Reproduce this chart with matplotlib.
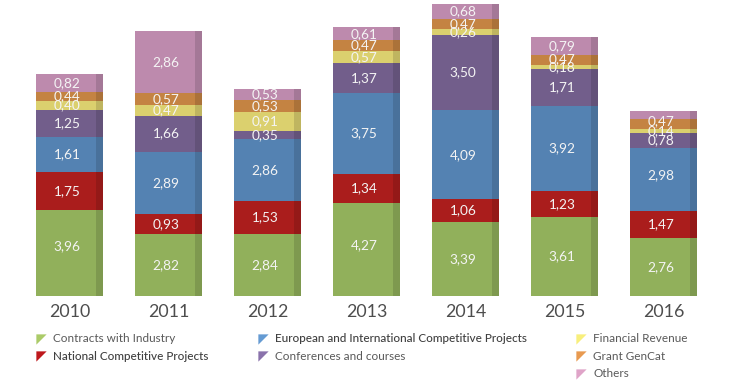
import matplotlib
matplotlib.use("Agg")
import matplotlib.pyplot as plt
import numpy as np
from matplotlib.colors import to_rgb
from matplotlib.path import Path

plt.rcParams['font.family'] = ['Lato', 'DejaVu Sans']

years = ['2010', '2011', '2012', '2013', '2014', '2015', '2016']

# bar heights as drawn (the 2016 column is drawn shorter than its printed labels)
contracts = [3.96, 2.82, 2.84, 4.27, 3.39, 3.61, 2.64]
national = [1.75, 0.93, 1.53, 1.34, 1.06, 1.23, 1.27]
european = [1.61, 2.89, 2.86, 3.75, 4.09, 3.92, 2.90]
conferences = [1.25, 1.66, 0.35, 1.37, 3.50, 1.71, 0.69]
financial = [0.40, 0.47, 0.91, 0.57, 0.26, 0.18, 0.18]
grant = [0.44, 0.57, 0.53, 0.47, 0.47, 0.47, 0.46]
others = [0.82, 2.86, 0.53, 0.61, 0.68, 0.79, 0.36]

# labels as printed
contracts_lab = ['3,96', '2,82', '2,84', '4,27', '3,39', '3,61', '2,76']
national_lab = ['1,75', '0,93', '1,53', '1,34', '1,06', '1,23', '1,47']
european_lab = ['1,61', '2,89', '2,86', '3,75', '4,09', '3,92', '2,98']
conferences_lab = ['1,25', '1,66', '0,35', '1,37', '3,50', '1,71', '0,78']
financial_lab = ['0,40', '0,47', '0,91', '0,57', '0,26', '0,18', '0,14']
grant_lab = ['0,44', '0,57', '0,53', '0,47', '0,47', '0,47', '0,47']
others_lab = ['0,82', '2,86', '0,53', '0,61', '0,68', '0,79', '']

series = [contracts, national, european, conferences, financial, grant, others]
labels = [contracts_lab, national_lab, european_lab, conferences_lab,
          financial_lab, grant_lab, others_lab]
names = ['Contracts with Industry', 'National Competitive Projects',
         'European and International Competitive Projects',
         'Conferences and courses', 'Financial Revenue', 'Grant GenCat', 'Others']
colors = ['#91B05B', '#AA1D1C', '#5482B2', '#725E8B', '#DBD06E', '#C48342', '#BD8AAD']
marker_colors = ['#ABCB68', '#BE181C', '#659BD3', '#8A72AB', '#F8EF7C', '#E89A50', '#DFA4C8']
medium = {'National Competitive Projects', 'European and International Competitive Projects'}

# label nudges in pixels, upward positive: (series index, year index)
nudges = {(0, 0): 6, (0, 3): 4, (2, 6): 4, (5, 6): 3}

W, H = 739, 385
fig = plt.figure(figsize=(W / 100, H / 100), dpi=100)
ax = fig.add_axes([0, 0, 1, 1])

step = 99.0
ppu = 21.67
base_y = 295.5
x0 = 66.0
ax.set_xlim(-x0 / step, (W - x0) / step)
ax.set_ylim(-(H - base_y) / ppu, base_y / ppu)
ax.axis('off')

front_w = 59.5 / step
side_w = 7.5 / step
pos = np.arange(len(years))
bottom = np.zeros(len(years))

for s, (vals, labs, col) in enumerate(zip(series, labels, colors)):
    vals = np.array(vals)
    dark = tuple(c * 0.87 for c in to_rgb(col))
    ax.bar(pos + front_w / 2 + side_w / 2, vals, side_w, bottom=bottom, color=dark, linewidth=0)
    ax.bar(pos, vals, front_w, bottom=bottom, color=col, linewidth=0)
    for i, v in enumerate(vals):
        if labs[i]:
            ax.text(pos[i] + 1 / step, bottom[i] + v / 2 + nudges.get((s, i), 0) / ppu, labs[i],
                    ha='center', va='center', color='#F4F4F4', fontsize=9.8)
    bottom += vals

# years
for i, y in enumerate(years):
    ax.text(pos[i] + 4 / step, -(312 - base_y) / ppu, y, ha='center', va='center',
            color='#4D4D4D', fontsize=12.8)

# legend
tri = Path([(-1, 1), (1, 1), (-1, -1), (-1, 1)], closed=True)
legend_at = [(36, 339), (36, 356), (258, 339), (258, 356), (576, 339), (576, 356), (576, 373.5)]
for name, mc, (px, py) in zip(names, marker_colors, legend_at):
    fig.add_artist(plt.Line2D([(px + 5) / W], [1 - py / H], marker=tri, markersize=7.4,
                              color=mc, markeredgewidth=0, linestyle='none',
                              transform=fig.transFigure))
    fig.text((px + 17) / W, 1 - py / H, name, ha='left', va='center', fontsize=8.45,
             color='#404040' if name in medium else '#595959',
             fontweight='medium' if name in medium else 'normal')

fig.savefig('out.png', dpi=100)
